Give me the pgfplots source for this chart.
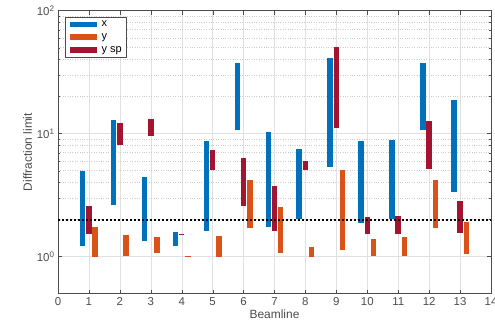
\documentclass[border=0pt]{standalone}
\usepackage{pgfplots}
\pgfplotsset{compat=1.18}
\usepackage{fontspec}
\setmainfont{Liberation Sans}
\definecolor{cx}{rgb}{0,0.447,0.741}
\definecolor{cy}{rgb}{0.85,0.325,0.098}
\definecolor{csp}{rgb}{0.635,0.078,0.184}
\definecolor{axc}{rgb}{0.3,0.3,0.3}
\begin{document}
\begin{tikzpicture}
\begin{axis}[
  at={(0,0)}, anchor=south west,
  scale only axis, width=433bp, height=283bp,
  ymode=log, xmin=0, xmax=14, ymin=0.5, ymax=100,
  xtick={0,1,...,14},
  xticklabels={0,1,2,3,4,5,6,7,8,9,10,11,12,13,14},
  ytick={1,10,100},
  yticklabels={10\textsuperscript{0},10\textsuperscript{1},10\textsuperscript{2}},
  xmajorgrids, ymajorgrids, yminorgrids,
  major grid style={black!12},
  minor grid style={black!20, dotted},
  axis line style={axc},
  tick style={axc},
  tick align=inside,
  major tick length=4bp, minor tick length=2bp,
  ticklabel style={font=\fontsize{11.5}{12}\selectfont, text=axc},
  label style={font=\fontsize{12}{13}\selectfont, text=axc},
  xlabel={Beamline}, ylabel={Diffraction limit},
  xlabel style={yshift=2bp},
  ylabel style={yshift=-2bp},
  unbounded coords=jump,
  legend style={at={(0.016,0.979)}, anchor=north west, draw=axc, fill=white,
    font=\fontsize{11}{12}\selectfont, inner sep=2bp, row sep=1.5bp},
  legend cell align=left,
  legend image code/.code={\draw[#1] (0bp,0bp) -- (27bp,0bp);},
]
% x
\addplot[cx, line width=5.5bp] coordinates {
 (0.8,1.23) (0.8,4.94) (0.8,nan)
 (1.8,2.63) (1.8,12.9) (1.8,nan)
 (2.8,1.33) (2.8,4.47) (2.8,nan)
 (3.8,1.21) (3.8,1.57) (3.8,nan)
 (4.8,1.60) (4.8,8.77) (4.8,nan)
 (5.8,10.6) (5.8,37.3) (5.8,nan)
 (6.8,1.73) (6.8,10.3) (6.8,nan)
 (7.8,2.02) (7.8,7.5) (7.8,nan)
 (8.8,5.32) (8.8,41.2) (8.8,nan)
 (9.8,1.87) (9.8,8.77) (9.8,nan)
 (10.8,2.02) (10.8,8.89) (10.8,nan)
 (11.8,10.6) (11.8,37.6) (11.8,nan)
 (12.8,3.38) (12.8,18.8)
};
\addlegendentry{x}
% y
\addplot[cy, line width=5.5bp] coordinates {
 (1.2,1.0) (1.2,1.73) (1.2,nan)
 (2.2,1.02) (2.2,1.51) (2.2,nan)
 (3.2,1.06) (3.2,1.45) (3.2,nan)
 (4.2,1.0) (4.2,1.008) (4.2,nan)
 (5.2,1.0) (5.2,1.47) (5.2,nan)
 (6.2,1.71) (6.2,4.2) (6.2,nan)
 (7.2,1.07) (7.2,2.52) (7.2,nan)
 (8.2,1.0) (8.2,1.19) (8.2,nan)
 (9.2,1.13) (9.2,5.07) (9.2,nan)
 (10.2,1.02) (10.2,1.39) (10.2,nan)
 (11.2,1.02) (11.2,1.44) (11.2,nan)
 (12.2,1.71) (12.2,4.23) (12.2,nan)
 (13.2,1.04) (13.2,1.9)
};
\addlegendentry{y}
% y sp
\addplot[csp, line width=5.5bp] coordinates {
 (1,1.53) (1,2.6) (1,nan)
 (2,8.14) (2,12.1) (2,nan)
 (3,9.6) (3,13.2) (3,nan)
 (4,1.50) (4,1.512) (4,nan)
 (5,5.07) (5,7.37) (5,nan)
 (6,2.58) (6,6.35) (6,nan)
 (7,1.61) (7,3.78) (7,nan)
 (8,5.07) (8,5.96) (8,nan)
 (9,11.2) (9,51) (9,nan)
 (10,1.53) (10,2.09) (10,nan)
 (11,1.53) (11,2.15) (11,nan)
 (12,5.16) (12,12.6) (12,nan)
 (13,1.56) (13,2.82)
};
\addlegendentry{y sp}
\addplot[black, line width=2bp, dash pattern=on 2bp off 2bp, forget plot] coordinates {(0,2) (14,2)};
\end{axis}
\pgfresetboundingbox
\path[use as bounding box] (-58bp,-40bp) rectangle (437bp,293.6bp);
\end{tikzpicture}
\end{document}
